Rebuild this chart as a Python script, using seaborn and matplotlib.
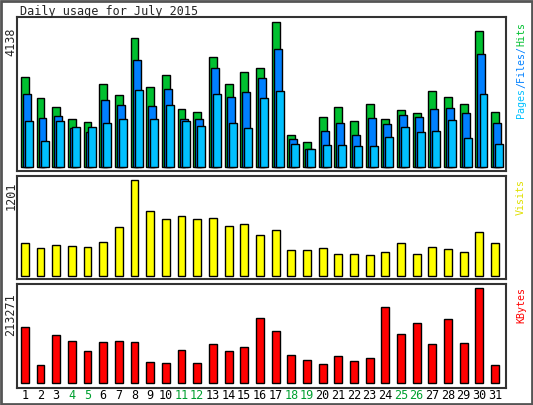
import matplotlib
matplotlib.use("Agg")
import matplotlib.pyplot as plt
import seaborn as sns
import numpy as np
import pandas as pd

days = list(range(1, 32))
hits = [2568,1969,1712,1370,1284,2368,2054,3681,2283,2625,1655,1569,3139,2368,2711,2825,4138,913,713,1427,1712,1313,1798,1370,1626,1541,2169,1997,1798,3880,1569]
files = [2083,1398,1455,1113,999,1912,1769,3053,1740,2225,1370,1370,2825,1997,2140,2539,3367,799,514,1027,1255,913,1398,1227,1484,1427,1655,1683,1541,3224,1255]
pages = [1312,742,1312,1141,1141,1255,1370,2197,1370,1769,1312,1170,2083,1255,1113,1969,2168,656,514,628,628,599,599,856,1141,999,1027,1341,827,2083,656]
visits = [407,344,382,370,357,420,609,1201,810,710,747,710,722,621,647,508,571,319,319,344,269,269,256,294,407,269,357,332,294,546,407]
kbytes = [125717,40408,107755,94286,71837,92041,94286,92041,47143,44898,74082,44898,87551,71837,80816,145918,116735,62857,51633,42653,60612,49388,56122,170612,110000,134694,87551,143673,89796,213271,40408]
weekend = [4,5,11,12,18,19,25,26]

sns.set_style("white")
plt.rcParams['font.family'] = ['DejaVu Sans Mono']

W, H = 533, 405
fig = plt.figure(figsize=(W/100, H/100), dpi=100)
fig.patch.set_facecolor("white")

def mkax(top, bottom, left=17, right=506):
    return fig.add_axes([left/W, 1-bottom/H, (right-left)/W, (bottom-top)/H])

ax1 = mkax(17, 171)
ax2 = mkax(176, 279)
ax3 = mkax(284, 388)

d = np.array(days, dtype=float)
kw = dict(native_scale=True, width=0.5, edgecolor="black", linewidth=1, saturation=1)
sns.barplot(x=d, y=hits, color="#00c030", ax=ax1, **kw)
sns.barplot(x=d+0.13, y=files, color="#0080ff", ax=ax1, **kw)
sns.barplot(x=d+0.26, y=pages, color="#00c0ff", ax=ax1, **kw)
sns.barplot(x=d, y=visits, color="#ffff00", ax=ax2, **kw)
sns.barplot(x=d, y=kbytes, color="#ff0000", ax=ax3, **kw)

ax1.set_ylim(-114, 4281)
ax2.set_ylim(-42, 1255)
ax3.set_ylim(-10550, 222900)

for ax in (ax1, ax2, ax3):
    ax.set_xlim(0.5, 31.7)
    ax.set_xticks([]); ax.set_yticks([])
    ax.set_xlabel(""); ax.set_ylabel("")
    for s in ax.spines.values():
        s.set_color("#333333"); s.set_linewidth(1.5)

ax3.set_xticks(days)
ax3.set_xticklabels([str(x) for x in days], fontsize=8.5)
ax3.tick_params(axis="x", length=0, pad=1)
for lab, dd in zip(ax3.get_xticklabels(), days):
    lab.set_color("#00a030" if dd in weekend else "black")

fs = 8.5
fig.text(20/W, 1-12/H, "Daily usage for July 2015", fontsize=fs, va="center", ha="left")
fig.text(11/W, 1-42/H, "4138", rotation=90, fontsize=fs, ha="center", va="center")
fig.text(11/W, 1-196/H, "1201", rotation=90, fontsize=fs, ha="center", va="center")
fig.text(11/W, 1-315/H, "213271", rotation=90, fontsize=fs, ha="center", va="center")

# right-side labels
x_r = 521/W
rf = 7.2
fig.text(x_r, 1-103/H, "Pages", rotation=90, color="#00c0ff", fontsize=rf, ha="center", va="center")
fig.text(x_r, 1-67/H, "/Files/", rotation=90, color="#0080ff", fontsize=rf, ha="center", va="center")
fig.text(x_r, 1-34/H, "Hits", rotation=90, color="#00c030", fontsize=rf, ha="center", va="center")
fig.text(x_r, 1-197/H, "Visits", rotation=90, color="#e0e000", fontsize=rf, ha="center", va="center")
fig.text(x_r, 1-305/H, "KBytes", rotation=90, color="#ff0000", fontsize=rf, ha="center", va="center")

# outer border
fig.add_artist(plt.Rectangle((0.002, 0.002), 0.996, 0.996, transform=fig.transFigure,
                             fill=False, edgecolor="#555555", linewidth=2))

fig.savefig("out.png", dpi=100)
